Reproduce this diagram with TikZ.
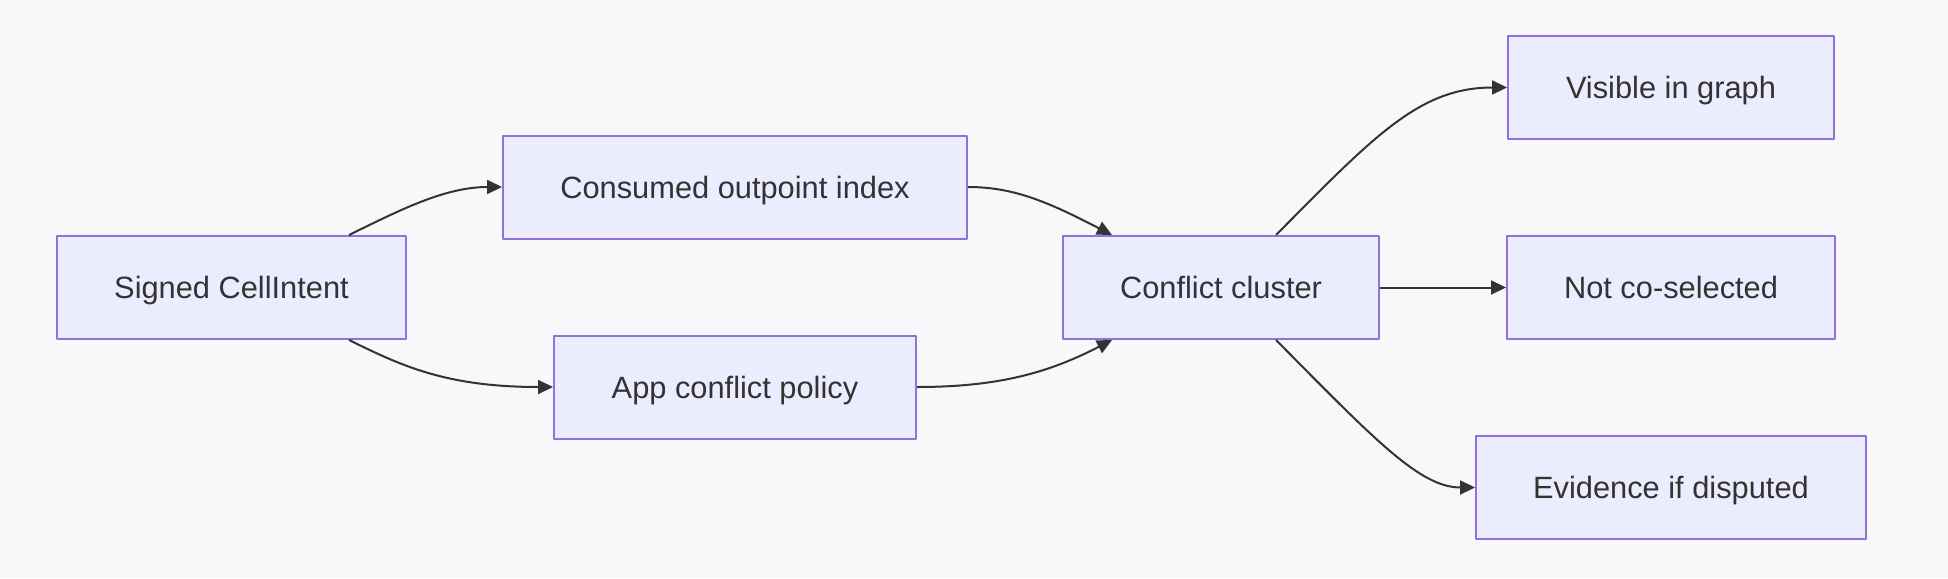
\documentclass[tikz,border=0pt]{standalone}
\usepackage{fontspec}
\setmainfont{Liberation Sans}
\usetikzlibrary{arrows.meta}
\definecolor{bgcol}{HTML}{F8F8FB}
\definecolor{boxfill}{HTML}{ECECFF}
\definecolor{boxline}{HTML}{9370DB}
\definecolor{inkcol}{HTML}{333333}
\begin{document}
\begin{tikzpicture}[x=1pt, y=-1pt, line join=round, >={Triangle[length=15pt,width=14pt]},
	box/.style={draw=boxline, fill=boxfill, line width=2pt, minimum height=103pt, inner sep=0pt, text height=22pt, text depth=0pt, text=inkcol, font=\fontsize{30.8}{36}\selectfont},
	link/.style={draw=inkcol, line width=2pt, ->}]
	\fill[bgcol] (0,0) rectangle (1948,578);
	\useasboundingbox (0,0) rectangle (1948,578);
	% boxes
	\node[box, minimum width=349pt] (sig) at (231.5,287.5) {Signed CellIntent};
	\node[box, minimum width=464pt] (con) at (735,187) {Consumed outpoint index};
	\node[box, minimum width=362pt] (app) at (735,387) {App conflict policy};
	\node[box, minimum width=316pt] (clu) at (1221,287.5) {Conflict cluster};
	\node[box, minimum width=326pt] (vis) at (1671,87.5) {Visible in graph};
	\node[box, minimum width=328pt] (not) at (1671,287.5) {Not co-selected};
	\node[box, minimum width=390pt] (evi) at (1671,487.5) {Evidence if disputed};
	% links
	\draw[link] ([xshift=117.5pt]sig.north) .. controls (400,210) and (445,187) .. (con.west);
	\draw[link] ([xshift=117.5pt]sig.south) .. controls (400,365) and (445,387) .. (app.west);
	\draw[link] (con.east) .. controls (1015,187) and (1050,203) .. ([xshift=-109pt]clu.north);
	\draw[link] (app.east) .. controls (1000,387) and (1050,372) .. ([xshift=-109pt]clu.south);
	\draw[link] ([xshift=55pt]clu.north) .. controls (1375,135) and (1420,87.5) .. (vis.west);
	\draw[link] (clu.east) -- (not.west);
	\draw[link] ([xshift=55pt]clu.south) .. controls (1375,440) and (1420,487.5) .. (evi.west);
\end{tikzpicture}
\end{document}
